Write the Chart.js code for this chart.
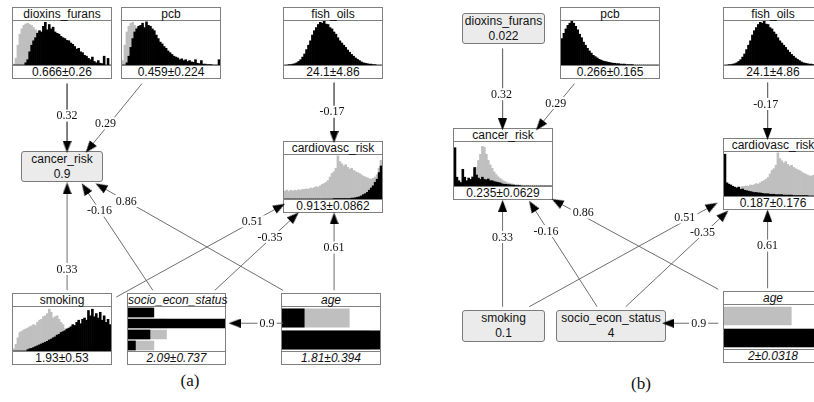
<!DOCTYPE html>
<html><head><meta charset="utf-8">
<script src="https://cdn.jsdelivr.net/npm/chart.js@4/dist/chart.umd.min.js"></script>
<style>
html,body{margin:0;padding:0;background:#fff;}
#wrap{position:relative;width:814px;height:402px;overflow:hidden;font-family:"Liberation Sans",Arial,sans-serif;color:#111;}
.node{position:absolute;border:1px solid #808080;background:#fff;box-sizing:border-box;}
.node .t,.node .v{height:12px;line-height:12px;font-size:12px;text-align:center;white-space:nowrap;}
.node .t{border-bottom:1px solid #808080;}
.node .v{border-top:1px solid #808080;}
.node .h{position:relative;height:44px;overflow:hidden}
.node canvas{display:block}
.it{font-style:italic}
.gbox{position:absolute;border:1px solid #7a7a7a;border-radius:3px;background:#ebebeb;box-sizing:border-box;text-align:center;font-size:12px;line-height:15px;white-space:nowrap;}
#edges{position:absolute;left:0;top:0;z-index:5}
.plab{position:absolute;font-family:"Liberation Serif",serif;font-size:17px;transform:translate(-50%,-50%)}
</style></head>
<body><div id="wrap"><canvas id="edges" width="814" height="402"></canvas></div>
<script>
// ---------- DATA ----------
const dioxA_post=[0,0,0,0,0,0,0.05,0.12,0.3,0.45,0.55,0.62,0.72,0.78,0.75,0.88,0.97,0.8,0.92,0.82,0.86,0.75,0.72,0.7,0.65,0.62,0.6,0.56,0.55,0.5,0.47,0.42,0.36,0.38,0.3,0.28,0.22,0.2,0.15,0.12,0.18,0.08,0.05,0.1,0.04,0.03,0.2,0,0.15,0];
const dioxA_prior=[0.02,0.15,0.45,0.7,0.82,0.9,0.93,0.95,0.92,0.9,0.85,0.8,0.75,0.7,0.65,0.6,0.55,0.5,0.45,0.4,0.35,0.3,0.26,0.22,0.18,0.15,0.12,0.1,0.08,0.06,0.05,0.04,0.03,0.02,0.02,0.01,0.01,0,0,0,0,0,0,0,0,0,0,0,0,0];
const pcbA_post=[0,0,0.05,0.2,0.4,0.6,0.75,0.82,0.88,0.9,0.95,0.85,0.98,0.9,0.88,0.82,0.78,0.68,0.6,0.52,0.48,0.42,0.38,0.32,0.28,0.24,0.2,0.18,0.16,0.12,0.14,0.1,0.12,0.08,0.1,0.07,0.06,0.12,0.04,0.03,0.1,0.02,0.02,0.01,0.01,0.01,0,0,0,0.12];
const pcbA_prior=[0.1,0.45,0.75,0.88,0.95,0.97,0.9,0.85,0.8,0.75,0.7,0.65,0.6,0.55,0.5,0.45,0.4,0.35,0.3,0.25,0.2,0.17,0.14,0.11,0.09,0.07,0.05,0.04,0.03,0.02,0.01,0,0,0,0,0,0,0,0,0,0,0,0,0,0,0,0,0,0,0];
const fish_post=[0,0,0.01,0.01,0.02,0.03,0.05,0.08,0.12,0.18,0.25,0.35,0.45,0.55,0.68,0.78,0.85,0.92,0.97,0.95,1.0,0.93,0.92,0.85,0.82,0.75,0.7,0.62,0.55,0.5,0.45,0.4,0.34,0.29,0.24,0.2,0.16,0.13,0.1,0.07,0.05,0.04,0.03,0.02,0.02,0.01,0.01,0,0,0];
const cardio_prior=[0.18,0.2,0.17,0.2,0.18,0.2,0.19,0.21,0.2,0.22,0.22,0.23,0.22,0.25,0.24,0.26,0.28,0.27,0.3,0.33,0.35,0.38,0.42,0.5,0.58,0.62,0.7,0.98,0.85,0.8,0.75,0.78,0.72,0.68,0.7,0.65,0.62,0.6,0.58,0.55,0.52,0.5,0.48,0.46,0.45,0.47,0.5,0.55,0.7,0.88];
const cardioA_post=[0,0,0,0,0,0,0,0,0,0,0,0,0,0,0,0,0,0,0,0,0,0,0,0,0,0.01,0.01,0.01,0.01,0.01,0.01,0.01,0.01,0.01,0.02,0.02,0.03,0.04,0.05,0.07,0.1,0.12,0.15,0.2,0.25,0.3,0.38,0.45,0.6,0.75];
const cardioB_post=[0.95,0.3,0.27,0.25,0.22,0.2,0.18,0.2,0.15,0.16,0.13,0.12,0.11,0.1,0.09,0.08,0.08,0.07,0.07,0.06,0.05,0.05,0.05,0.04,0.04,0.04,0.03,0.03,0.03,0.03,0.02,0.02,0.02,0.02,0.02,0.01,0.01,0.01,0.01,0.01,0.01,0.01,0.01,0,0,0,0,0,0,0];
const cancerB_prior=[0,0.02,0.03,0.05,0.06,0.07,0.08,0.1,0.15,0.22,0.3,0.42,0.58,0.72,0.9,0.88,0.72,0.58,0.48,0.4,0.32,0.26,0.21,0.17,0.14,0.11,0.09,0.07,0.06,0.05,0.04,0.03,0.03,0.02,0.02,0.01,0.01,0.01,0,0,0,0,0,0,0,0,0,0,0,0];
const cancerB_post=[0.87,0.2,0.12,0.08,0.38,0.2,0.12,0.18,0.15,0.2,0.42,0.25,0.18,0.15,0.2,0.15,0.14,0.16,0.12,0.12,0.1,0.09,0.08,0.07,0.05,0.04,0.04,0.03,0.03,0.02,0.02,0.01,0.01,0.01,0,0,0,0,0,0,0,0,0,0,0,0,0,0,0,0];
const smokA_prior=[0.05,0.15,0.3,0.42,0.45,0.48,0.5,0.52,0.55,0.57,0.6,0.58,0.65,0.7,0.72,0.78,0.8,0.85,0.95,0.88,0.75,0.78,0.8,0.72,0.65,0.6,0.5,0.45,0.4,0.35,0.3,0.25,0.2,0.16,0.12,0.1,0.08,0.06,0.05,0.04,0.03,0.02,0.02,0.01,0.01,0.01,0,0,0,0];
const smokA_post=[0,0,0,0,0,0,0,0.03,0.05,0.06,0.08,0.1,0.12,0.14,0.16,0.18,0.2,0.22,0.25,0.27,0.3,0.32,0.36,0.38,0.42,0.44,0.46,0.5,0.52,0.55,0.6,0.58,0.65,0.7,0.62,0.72,0.75,0.7,0.92,0.8,0.95,0.78,0.85,0.75,0.88,0.7,0.8,0.65,0.72,0.6];
const pcbB_post=[0.6,0.72,0.82,0.9,0.95,1.0,0.95,0.88,0.8,0.7,0.62,0.52,0.45,0.38,0.32,0.27,0.22,0.19,0.16,0.13,0.11,0.09,0.08,0.07,0.06,0.05,0.04,0.04,0.03,0.03,0.02,0.02,0.02,0.01,0.01,0.01,0.01,0,0,0,0,0,0,0,0,0,0,0,0,0];
const socioCats=['1','2','3','4'];
const socioA_post=[0.27,1.0,0.23,0.08];
const socioA_prior=[0.25,0.4,0.4,0.27];
const ageCats=['1','2'];
const ageA_post=[0.23,1.0];
const ageA_prior=[0.69,0.9];
const ageB_post=[0,1.0];
const ageB_prior=[0.69,0.9];
const valueLabelsA={diox:'0.666±0.26',pcb:'0.459±0.224',fish:'24.1±4.86',cancer:'0.9',cardio:'0.913±0.0862',smok:'1.93±0.53',socio:'2.09±0.737',age:'1.81±0.394'};
const valueLabelsB={diox:'0.022',pcb:'0.266±0.165',fish:'24.1±4.86',cancer:'0.235±0.0629',cardio:'0.187±0.176',smok:'0.1',socio:'4',age:'2±0.0318'};
const edgeWeightsA=[0.32,0.29,-0.17,0.33,-0.16,0.86,0.51,-0.35,0.61,0.9];
const edgeWeightsB=[0.32,0.29,-0.17,0.33,-0.16,0.86,0.51,-0.35,0.61,0.9];

// ---------- LAYOUT ----------
const histNodes=[
 {name:'dioxins_furans',x:12,y:7,w:100,post:dioxA_post,prior:dioxA_prior,val:valueLabelsA.diox},
 {name:'pcb',x:121,y:7,w:100,post:pcbA_post,prior:pcbA_prior,val:valueLabelsA.pcb},
 {name:'fish_oils',x:283,y:7,w:100,post:fish_post,prior:null,val:valueLabelsA.fish},
 {name:'cardiovasc_risk',x:283,y:141,w:100,post:cardioA_post,prior:cardio_prior,val:valueLabelsA.cardio},
 {name:'smoking',x:12,y:293,w:100,post:smokA_post,prior:smokA_prior,val:valueLabelsA.smok},
 {name:'socio_econ_status',x:127,y:293,w:99,post:socioA_post,prior:socioA_prior,cats:socioCats,hz:true,cp:0.88,it:true,val:valueLabelsA.socio},
 {name:'age',x:281,y:293,w:100,post:ageA_post,prior:ageA_prior,cats:ageCats,hz:true,cp:0.86,it:true,val:valueLabelsA.age},
 {name:'pcb',x:560,y:7,w:100,post:pcbB_post,prior:null,val:valueLabelsB.pcb},
 {name:'fish_oils',x:723,y:7,w:100,post:fish_post,prior:null,val:valueLabelsB.fish},
 {name:'cancer_risk',x:453,y:128,w:100,post:cancerB_post,prior:cancerB_prior,val:valueLabelsB.cancer},
 {name:'cardiovasc_risk',x:723,y:138,w:100,post:cardioB_post,prior:cardio_prior,val:valueLabelsB.cardio},
 {name:'age',x:723,y:291,w:100,post:ageB_post,prior:ageB_prior,cats:ageCats,hz:true,cp:0.84,it:true,val:valueLabelsB.age}
];
const greyNodes=[
 {name:'cancer_risk',val:valueLabelsA.cancer,x:21,y:151,w:82,h:31},
 {name:'dioxins_furans',val:valueLabelsB.diox,x:462,y:13,w:83,h:31},
 {name:'smoking',val:valueLabelsB.smok,x:462,y:310,w:83,h:32},
 {name:'socio_econ_status',val:valueLabelsB.socio,x:556,y:310,w:110,h:32}
];
// edge geometry: start x,y ; arrow tip x,y ; label x,y
const edgeGeomA=[[62,80,62,151,62,113],[138,80,81,151,101,121],[333,79,333,141,331,109],[62,293,62,182,62,271],[149,293,77,183,95,211],[281,293,91,183,122,201],[112,300,283,204,250,222],[212,293,297,213,268,238],[333,293,333,213,333,249],[281,327,226,327,265,327]];
const edgeGeomB=[[504,44,504,128,503,91],[577,80,538,128,558,100],[773,79,773,138,771,101],[504,310,504,200,504,238],[600,310,531,201,548,232],[723,292,554,199,586,213],[531,310,722,203,689,218],[629,310,733,211,707,233],[773,291,773,210,773,247],[723,327,666,327,703,327]];

const wrap=document.getElementById('wrap');
const BLACK='#000', GREY='#bfbfbf';

function makeHist(n){
  const d=document.createElement('div'); d.className='node';
  d.style.left=n.x+'px'; d.style.top=n.y+'px'; d.style.width=n.w+'px';
  const t=document.createElement('div'); t.className='t'+(n.it?' it':''); t.textContent=n.name;
  const h=document.createElement('div'); h.className='h';
  const c=document.createElement('canvas'); c.width=n.w-2; c.height=44; h.appendChild(c);
  const v=document.createElement('div'); v.className='v'+(n.it?' it':''); v.textContent=n.val;
  d.appendChild(t); d.appendChild(h); d.appendChild(v); wrap.appendChild(d);
  const labels=n.cats?n.cats:n.post.map((_,i)=>String(i));
  const common={grouped:false,borderWidth:0,categoryPercentage:n.hz?n.cp:1,barPercentage:1};
  const ds=[Object.assign({data:n.post,backgroundColor:BLACK,order:0},common)];
  if(n.prior) ds.push(Object.assign({data:n.prior,backgroundColor:GREY,order:1},common));
  const val={type:'linear',min:0,max:1,display:false};
  const cat={type:'category',display:false};
  new Chart(c,{type:'bar',data:{labels,datasets:ds},options:{
    indexAxis:n.hz?'y':'x',responsive:false,animation:false,events:[],
    layout:{padding:0},
    plugins:{legend:{display:false},tooltip:{enabled:false}},
    scales:n.hz?{x:val,y:cat}:{x:cat,y:val}}});
}
histNodes.forEach(makeHist);
greyNodes.forEach(n=>{
  const d=document.createElement('div'); d.className='gbox';
  Object.assign(d.style,{left:n.x+'px',top:n.y+'px',width:n.w+'px',height:n.h+'px'});
  d.innerHTML='<div>'+n.name+'</div><div>'+n.val+'</div>';
  wrap.appendChild(d);
});
[['(a)',190,381],['(b)',641,384]].forEach(p=>{
  const d=document.createElement('div'); d.className='plab'; d.textContent=p[0];
  d.style.left=p[1]+'px'; d.style.top=p[2]+'px'; wrap.appendChild(d);
});

// arrow head image
const arrow=document.createElement('canvas'); arrow.width=9; arrow.height=12;
(function(){const g=arrow.getContext('2d');g.fillStyle='#000';g.beginPath();g.moveTo(4.5,0);g.lineTo(9,12);g.lineTo(0,12);g.closePath();g.fill();})();

const edgeDatasets=[]; const edgeLabels=[];
function addEdges(geom,weights){
  geom.forEach((g,i)=>{
    const [x1,y1,x2,y2,lx,ly]=g;
    const dx=x2-x1, dy=y2-y1, L=Math.hypot(dx,dy), ux=dx/L, uy=dy/L;
    const cx=x2-6*ux, cy=y2-6*uy;
    const rot=Math.atan2(ux,-uy)*180/Math.PI;
    edgeDatasets.push({data:[{x:x1,y:y1},{x:cx,y:cy}],showLine:true,borderColor:'#6e6e6e',borderWidth:1,
      pointRadius:[0,6],pointHoverRadius:0,pointStyle:['circle',arrow],rotation:[0,rot],
      pointBackgroundColor:'#000',pointBorderWidth:0,clip:false});
    edgeLabels.push({x:lx,y:ly,t:String(weights[i])});
  });
}
addEdges(edgeGeomA,edgeWeightsA);
addEdges(edgeGeomB,edgeWeightsB);

const labelPlugin={id:'elabels',afterDatasetsDraw(chart){
  const ctx=chart.ctx, xs=chart.scales.x, ys=chart.scales.y;
  ctx.save(); ctx.font='12px "Liberation Serif"'; ctx.textAlign='center'; ctx.textBaseline='middle';
  edgeLabels.forEach(l=>{
    const px=xs.getPixelForValue(l.x), py=ys.getPixelForValue(l.y);
    const w=ctx.measureText(l.t).width;
    ctx.fillStyle='#fff'; ctx.fillRect(px-w/2-2,py-6,w+4,12);
    ctx.fillStyle='#111'; ctx.fillText(l.t,px,py+0.5);
  });
  ctx.restore();
}};
new Chart(document.getElementById('edges'),{type:'scatter',data:{datasets:edgeDatasets},
  options:{responsive:false,animation:false,events:[],layout:{padding:0},
    plugins:{legend:{display:false},tooltip:{enabled:false}},
    scales:{x:{type:'linear',min:0,max:814,display:false},y:{type:'linear',min:0,max:402,reverse:true,display:false}}},
  plugins:[labelPlugin]});
</script></body></html>
